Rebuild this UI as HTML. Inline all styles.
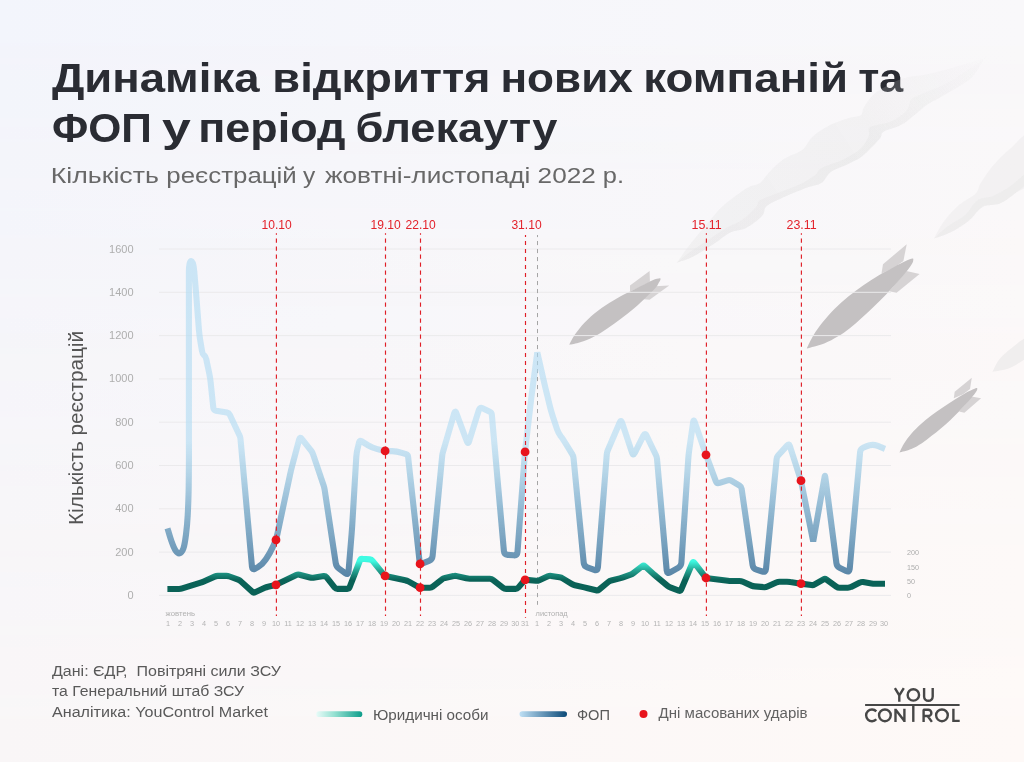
<!DOCTYPE html>
<html lang="uk">
<head>
<meta charset="utf-8">
<title>Динаміка відкриття нових компаній та ФОП у період блекауту</title>
<style>
html,body{margin:0;padding:0;}
body{width:1024px;height:762px;overflow:hidden;position:relative;font-family:"Liberation Sans",sans-serif;
background:linear-gradient(to right,#f3f5fc,#f9f8fa);}
#bg2{position:absolute;left:0;top:0;width:1024px;height:762px;background:linear-gradient(to right,#f9f6f7,#fef9f7);
-webkit-mask-image:linear-gradient(to bottom,transparent,#000);mask-image:linear-gradient(to bottom,transparent,#000);}
svg{position:absolute;left:0;top:0;display:block;will-change:transform;}
svg text{font-family:"Liberation Sans",sans-serif;}
</style>
</head>
<body>
<div id="bg2"></div>
<svg width="1024" height="762" viewBox="0 0 1024 762">
<defs>
<linearGradient id="gb" gradientUnits="userSpaceOnUse" x1="0" y1="440" x2="0" y2="585">
<stop offset="0" stop-color="#aedaf2" stop-opacity="0.6"/>
<stop offset="0.2" stop-color="#99c8e2" stop-opacity="0.68"/>
<stop offset="0.47" stop-color="#79aac9" stop-opacity="0.8"/>
<stop offset="1" stop-color="#507da0" stop-opacity="1"/>
</linearGradient>
<linearGradient id="gg" gradientUnits="userSpaceOnUse" x1="0" y1="561" x2="0" y2="580">
<stop offset="0" stop-color="#3ffbe3"/>
<stop offset="0.5" stop-color="#25a391"/>
<stop offset="1" stop-color="#0a6257"/>
</linearGradient>
<linearGradient id="lg1" x1="0" y1="0" x2="1" y2="0">
<stop offset="0" stop-color="#e8fbf8"/>
<stop offset="0.4" stop-color="#94e0d1"/>
<stop offset="1" stop-color="#0e9d8b"/>
</linearGradient>
<linearGradient id="lg2" x1="0" y1="0" x2="1" y2="0">
<stop offset="0" stop-color="#bfe0f5"/>
<stop offset="1" stop-color="#0c4a78"/>
</linearGradient>
<linearGradient id="sm1" gradientUnits="userSpaceOnUse" x1="690" y1="255" x2="985" y2="60">
<stop offset="0" stop-color="#dedede" stop-opacity="0.25"/>
<stop offset="0.62" stop-color="#dedede" stop-opacity="0.24"/>
<stop offset="1" stop-color="#dedede" stop-opacity="0.03"/>
</linearGradient>
</defs>

<!-- bombs -->
<g id="bombs">
<polygon points="630.0,291.5 630.0,285.5 649.6,271.1 649.9,281.7 640.5,287.0" fill="#d6d3d4"/>
<polygon points="654.9,286.2 669.2,285.5 649.6,299.8 641.3,299.0" fill="#d6d3d4"/>
<path d="M569.2 344.8C570.1 343.1 572.3 338.2 574.9 334.5C577.5 330.8 580.8 326.5 584.7 322.4C588.6 318.4 593.5 314.0 598.3 310.4C603.1 306.7 608.3 303.6 613.4 300.6C618.4 297.5 623.9 294.6 628.5 292.3C633.0 289.9 636.5 288.2 640.5 286.2C644.6 284.2 649.4 281.5 652.6 280.2C655.8 278.8 658.6 278.3 659.9 278.2C661.1 278.2 660.5 279.2 660.3 279.9C660.2 280.6 659.7 281.1 658.9 282.4C658.2 283.8 657.7 285.3 655.6 287.7C653.6 290.1 650.1 293.4 646.6 296.8C643.1 300.2 638.8 304.4 634.5 308.1C630.2 311.7 625.4 315.3 620.9 318.7C616.4 322.1 611.9 325.4 607.3 328.5C602.8 331.5 598.3 334.5 593.8 336.8C589.2 339.1 584.3 341.0 580.2 342.3C576.1 343.7 571.0 344.4 569.2 344.8Z" fill="#c4c1c2"/>
<polygon points="881.5,273.5 883.0,264.2 906.7,244.2 903.4,261.1 893.6,267.9" fill="#d6d3d4"/>
<polygon points="906.4,271.0 919.6,274.0 896.6,292.8 889.1,291.3" fill="#d6d3d4"/>
<path d="M806.8 348.4C807.9 346.2 810.9 339.5 813.6 335.1C816.2 330.8 819.1 326.7 822.6 322.3C826.2 317.9 830.4 313.0 834.7 308.7C839.0 304.4 843.5 300.5 848.3 296.6C853.1 292.7 858.4 288.8 863.4 285.3C868.4 281.8 873.5 278.5 878.5 275.5C883.5 272.5 889.1 269.6 893.6 267.2C898.1 264.8 902.5 262.6 905.7 261.1C908.8 259.7 911.2 258.7 912.5 258.6C913.7 258.4 913.4 259.5 913.2 260.4C913.1 261.3 913.0 262.1 911.7 264.2C910.5 266.2 908.2 269.3 905.7 272.5C903.2 275.6 899.9 279.4 896.6 283.0C893.4 286.7 889.8 290.5 886.1 294.4C882.3 298.3 878.0 302.5 874.0 306.4C870.0 310.3 865.9 314.1 861.9 317.8C857.9 321.4 853.9 325.2 849.8 328.3C845.8 331.5 842.0 334.1 837.7 336.6C833.5 339.1 829.3 341.5 824.2 343.4C819.0 345.4 809.7 347.6 806.8 348.4Z" fill="#c4c1c2"/>
<polygon points="953.8,398.3 954.7,391.8 971.8,377.7 970.0,388.9 963.2,394.2" fill="#d6d3d4"/>
<polygon points="971.5,396.6 981.1,398.3 964.4,412.7 959.1,411.6" fill="#d6d3d4"/>
<path d="M899.4 452.6C900.2 451.1 902.2 446.3 904.2 443.2C906.1 440.1 908.5 436.9 911.3 433.8C914.0 430.6 917.4 427.4 920.7 424.3C924.0 421.3 927.6 418.3 931.3 415.5C935.1 412.6 939.2 409.8 943.1 407.2C947.1 404.5 951.2 401.9 954.9 399.5C958.7 397.2 962.6 394.7 965.6 393.0C968.5 391.3 970.8 390.3 972.6 389.5C974.5 388.6 976.0 387.9 976.8 387.9C977.5 387.9 977.4 388.7 977.2 389.5C977.1 390.2 976.6 391.1 975.6 392.4C974.6 393.8 973.1 395.8 971.5 397.7C969.8 399.7 967.7 401.9 965.6 404.2C963.4 406.6 961.0 409.3 958.5 411.9C955.9 414.6 953.2 417.4 950.2 420.2C947.3 422.9 943.9 425.8 940.8 428.4C937.6 431.1 934.5 433.7 931.3 436.1C928.2 438.6 925.2 441.0 921.9 443.2C918.5 445.4 915.0 447.5 911.3 449.1C907.5 450.7 901.4 452.1 899.4 452.6Z" fill="#c4c1c2"/>
</g>

<!-- grid -->
<g stroke="#ebeaec" stroke-width="1">
<line x1="159" y1="595.4" x2="891" y2="595.4"/>
<line x1="159" y1="552.1" x2="891" y2="552.1"/>
<line x1="159" y1="508.8" x2="891" y2="508.8"/>
<line x1="159" y1="465.5" x2="891" y2="465.5"/>
<line x1="159" y1="422.2" x2="891" y2="422.2"/>
<line x1="159" y1="378.9" x2="891" y2="378.9"/>
<line x1="159" y1="335.6" x2="891" y2="335.6"/>
<line x1="159" y1="292.3" x2="891" y2="292.3"/>
<line x1="159" y1="249.0" x2="891" y2="249.0"/>
</g>

<!-- titles -->
<g font-size="40.6" font-weight="bold" fill="#2a2c33">
<text x="51.90" y="91.6" textLength="207.61" lengthAdjust="spacingAndGlyphs">Динаміка</text>
<text x="272.35" y="91.6" textLength="218.22" lengthAdjust="spacingAndGlyphs">відкриття</text>
<text x="500.45" y="91.6" textLength="132.36" lengthAdjust="spacingAndGlyphs">нових</text>
<text x="643.24" y="91.6" textLength="204.82" lengthAdjust="spacingAndGlyphs">компаній</text>
<text x="858.22" y="91.6" textLength="45.00" lengthAdjust="spacingAndGlyphs">та</text>
<text x="51.95" y="141.6" textLength="99.92" lengthAdjust="spacingAndGlyphs">ФОП</text>
<text x="162.02" y="141.6" textLength="28.79" lengthAdjust="spacingAndGlyphs">у</text>
<text x="198.26" y="141.6" textLength="147.24" lengthAdjust="spacingAndGlyphs">період</text>
<text x="355.40" y="141.6" textLength="202.01" lengthAdjust="spacingAndGlyphs">блекауту</text>
</g>
<g font-size="22.6" fill="#686868">
<text x="50.77" y="183.3" textLength="108.05" lengthAdjust="spacingAndGlyphs">Кількість</text>
<text x="166.38" y="183.3" textLength="130.43" lengthAdjust="spacingAndGlyphs">реєстрацій</text>
<text x="302.99" y="183.3" textLength="12.24" lengthAdjust="spacingAndGlyphs">у</text>
<text x="325.00" y="183.3" textLength="205.40" lengthAdjust="spacingAndGlyphs">жовтні-листопаді</text>
<text x="537.58" y="183.3" textLength="58.23" lengthAdjust="spacingAndGlyphs">2022</text>
<text x="602.88" y="183.3" textLength="21.24" lengthAdjust="spacingAndGlyphs">р.</text>
</g>

<!-- smoke trails -->
<g id="smoke">
<path d="M676.8 262.7C678.7 260.1 684.1 252.1 688.0 247.0C691.9 241.9 696.0 236.8 700.0 232.0C704.0 227.2 708.0 222.5 712.0 218.0C716.0 213.5 718.2 210.0 724.0 205.0C729.8 200.0 741.0 191.7 747.0 188.0C753.0 184.3 756.3 185.6 760.0 182.9C763.7 180.2 765.5 175.8 769.4 171.9C773.3 168.0 778.1 163.0 783.6 159.3C789.1 155.6 797.8 153.5 802.5 149.8C807.2 146.1 807.8 141.1 812.0 137.2C816.2 133.3 821.7 129.3 827.7 126.2C833.7 123.1 842.7 120.1 848.2 118.3C853.7 116.5 858.2 117.0 860.8 115.2C863.4 113.4 861.9 110.6 863.9 107.3C865.9 104.0 869.1 98.8 872.5 95.5C875.9 92.2 878.9 90.3 884.0 87.5C889.1 84.7 895.6 80.8 903.0 78.5C910.4 76.2 919.9 75.9 928.6 74.0C937.3 72.1 945.8 69.6 955.0 67.0C964.2 64.4 979.2 59.9 984.0 58.5C988.8 57.1 986.0 55.4 984.0 58.5C982.0 61.6 977.5 71.7 972.2 77.0C966.9 82.3 959.4 85.9 952.1 90.4C944.8 94.9 934.0 100.5 928.6 103.8C923.2 107.1 924.5 107.0 920.0 110.5C915.5 114.0 907.8 121.1 901.7 124.6C895.6 128.1 887.3 129.3 883.6 131.7C879.9 134.1 883.2 134.7 879.7 138.8C876.2 142.9 867.6 151.9 862.4 156.1C857.1 160.3 853.5 161.4 848.2 164.0C843.0 166.6 835.4 168.8 830.9 171.9C826.4 175.1 825.3 180.3 821.4 182.9C817.5 185.5 814.0 185.0 807.2 187.6C800.4 190.2 787.3 195.5 780.5 198.7C773.7 201.8 769.4 203.6 766.3 206.5C763.2 209.4 765.4 212.4 762.0 216.0C758.6 219.6 751.3 225.2 746.0 228.0C740.7 230.8 735.8 229.8 730.4 232.5C725.0 235.2 719.8 240.0 713.6 244.0C707.4 248.0 699.5 253.4 693.4 256.5C687.3 259.6 679.6 261.7 676.8 262.7Z" fill="url(#sm1)"/>
<path d="M676.8 262.7C679.0 260.9 684.8 255.8 690.0 252.0C695.2 248.2 702.0 244.0 708.0 240.0C714.0 236.0 720.3 231.3 726.0 228.0C731.7 224.7 737.0 223.5 742.0 220.0C747.0 216.5 753.0 210.3 756.0 207.0C759.0 203.7 756.2 202.6 760.0 200.2C763.8 197.8 772.3 195.0 778.9 192.4C785.5 189.8 793.4 187.4 799.4 184.5C805.4 181.6 811.4 177.8 815.1 175.0C818.8 172.2 816.7 170.6 821.4 168.0C826.1 165.4 836.9 162.6 843.5 159.3C850.1 156.0 856.6 152.2 860.8 148.3C865.0 144.4 867.1 139.2 868.7 135.7C870.3 132.1 866.5 129.4 870.2 127.0C873.9 124.6 884.7 124.2 890.7 121.5C896.8 118.8 903.1 114.2 906.5 110.5C909.9 106.8 909.0 102.0 911.2 99.4C913.5 96.8 914.4 97.3 920.0 94.7C925.6 92.1 937.5 87.8 945.0 84.0C952.5 80.2 958.5 76.2 965.0 72.0C971.5 67.8 980.8 60.8 984.0 58.5C987.2 56.2 986.0 55.4 984.0 58.5C982.0 61.6 977.5 71.7 972.2 77.0C966.9 82.3 959.4 85.9 952.1 90.4C944.8 94.9 934.0 100.5 928.6 103.8C923.2 107.1 924.5 107.0 920.0 110.5C915.5 114.0 907.8 121.1 901.7 124.6C895.6 128.1 887.3 129.3 883.6 131.7C879.9 134.1 883.2 134.7 879.7 138.8C876.2 142.9 867.6 151.9 862.4 156.1C857.1 160.3 853.5 161.4 848.2 164.0C843.0 166.6 835.4 168.8 830.9 171.9C826.4 175.1 825.3 180.3 821.4 182.9C817.5 185.5 814.0 185.0 807.2 187.6C800.4 190.2 787.3 195.5 780.5 198.7C773.7 201.8 769.4 203.6 766.3 206.5C763.2 209.4 765.4 212.4 762.0 216.0C758.6 219.6 751.3 225.2 746.0 228.0C740.7 230.8 735.8 229.8 730.4 232.5C725.0 235.2 719.8 240.0 713.6 244.0C707.4 248.0 699.5 253.4 693.4 256.5C687.3 259.6 679.6 261.7 676.8 262.7Z" fill="url(#sm1)"/>
<path d="M933.9 238.6C935.5 235.9 939.1 227.9 943.2 222.4C947.3 216.9 953.2 210.1 958.6 205.3C964.0 200.5 972.0 197.1 975.7 193.4C979.4 189.7 978.0 187.7 980.8 183.1C983.6 178.5 987.9 171.8 992.7 166.1C997.5 160.4 1003.6 154.2 1009.8 149.0C1016.0 143.8 1026.6 129.8 1030.0 135.0C1033.4 140.2 1032.5 170.3 1030.0 180.0C1027.5 189.7 1020.0 189.5 1014.9 193.4C1009.8 197.3 1005.0 201.3 999.6 203.6C994.2 205.9 987.6 204.2 982.5 207.0C977.4 209.8 974.2 216.4 968.8 220.7C963.4 225.0 955.9 229.6 950.1 232.6C944.3 235.6 936.6 237.6 933.9 238.6Z" fill="#dedede" fill-opacity="0.24"/>
<path d="M933.9 238.6C936.3 236.5 943.1 229.8 948.4 225.8C953.6 221.8 960.6 219.0 965.4 214.7C970.2 210.4 972.8 203.3 977.4 200.2C982.0 197.1 987.3 198.2 992.7 195.9C998.1 193.6 1003.6 190.9 1009.8 186.6C1016.0 182.3 1026.6 171.1 1030.0 170.0C1033.4 168.9 1032.5 176.1 1030.0 180.0C1027.5 183.9 1020.0 189.5 1014.9 193.4C1009.8 197.3 1005.0 201.3 999.6 203.6C994.2 205.9 987.6 204.2 982.5 207.0C977.4 209.8 974.2 216.4 968.8 220.7C963.4 225.0 955.9 229.6 950.1 232.6C944.3 235.6 936.6 237.6 933.9 238.6Z" fill="#dedede" fill-opacity="0.24"/>
<path d="M992.5 371.7C994.1 369.1 996.1 361.8 1002.4 355.9C1008.6 349.9 1025.4 336.3 1030.0 336.0C1034.6 335.7 1033.3 348.7 1030.0 354.0C1026.7 359.3 1016.5 364.8 1010.2 367.7C1004.0 370.6 995.5 371.0 992.5 371.7Z" fill="#dedede" fill-opacity="0.4"/>
</g>

<!-- y axis -->
<g font-size="11" fill="#aeaeae">
<text x="133.6" y="598.9" text-anchor="end">0</text>
<text x="133.6" y="555.6" text-anchor="end">200</text>
<text x="133.6" y="512.3" text-anchor="end">400</text>
<text x="133.6" y="469.0" text-anchor="end">600</text>
<text x="133.6" y="425.7" text-anchor="end">800</text>
<text x="133.6" y="382.4" text-anchor="end">1000</text>
<text x="133.6" y="339.1" text-anchor="end">1200</text>
<text x="133.6" y="295.8" text-anchor="end">1400</text>
<text x="133.6" y="252.5" text-anchor="end">1600</text>
</g>
<text transform="translate(83 525) rotate(-90)" font-size="19.5" fill="#555" textLength="194" lengthAdjust="spacingAndGlyphs">Кількість реєстрацій</text>
<g font-size="7.2" fill="#adadad">
<text x="907" y="555.2">200</text>
<text x="907" y="570">150</text>
<text x="907" y="584">50</text>
<text x="907" y="598">0</text>
</g>

<!-- x axis -->
<g font-size="7.3" fill="#b4b4b4">
<text x="168.0" y="626" text-anchor="middle">1</text>
<text x="180.0" y="626" text-anchor="middle">2</text>
<text x="192.0" y="626" text-anchor="middle">3</text>
<text x="204.0" y="626" text-anchor="middle">4</text>
<text x="216.0" y="626" text-anchor="middle">5</text>
<text x="228.0" y="626" text-anchor="middle">6</text>
<text x="240.0" y="626" text-anchor="middle">7</text>
<text x="252.0" y="626" text-anchor="middle">8</text>
<text x="264.0" y="626" text-anchor="middle">9</text>
<text x="276.0" y="626" text-anchor="middle">10</text>
<text x="288.0" y="626" text-anchor="middle">11</text>
<text x="300.0" y="626" text-anchor="middle">12</text>
<text x="312.0" y="626" text-anchor="middle">13</text>
<text x="324.0" y="626" text-anchor="middle">14</text>
<text x="336.0" y="626" text-anchor="middle">15</text>
<text x="348.0" y="626" text-anchor="middle">16</text>
<text x="360.0" y="626" text-anchor="middle">17</text>
<text x="372.0" y="626" text-anchor="middle">18</text>
<text x="384.0" y="626" text-anchor="middle">19</text>
<text x="396.0" y="626" text-anchor="middle">20</text>
<text x="408.0" y="626" text-anchor="middle">21</text>
<text x="420.0" y="626" text-anchor="middle">22</text>
<text x="432.0" y="626" text-anchor="middle">23</text>
<text x="444.0" y="626" text-anchor="middle">24</text>
<text x="456.0" y="626" text-anchor="middle">25</text>
<text x="468.0" y="626" text-anchor="middle">26</text>
<text x="480.0" y="626" text-anchor="middle">27</text>
<text x="492.0" y="626" text-anchor="middle">28</text>
<text x="504.0" y="626" text-anchor="middle">29</text>
<text x="515.2" y="626" text-anchor="middle">30</text>
<text x="525.0" y="626" text-anchor="middle">31</text>
<text x="537.0" y="626" text-anchor="middle">1</text>
<text x="549.0" y="626" text-anchor="middle">2</text>
<text x="561.0" y="626" text-anchor="middle">3</text>
<text x="573.0" y="626" text-anchor="middle">4</text>
<text x="585.0" y="626" text-anchor="middle">5</text>
<text x="597.0" y="626" text-anchor="middle">6</text>
<text x="609.0" y="626" text-anchor="middle">7</text>
<text x="621.0" y="626" text-anchor="middle">8</text>
<text x="633.0" y="626" text-anchor="middle">9</text>
<text x="645.0" y="626" text-anchor="middle">10</text>
<text x="657.0" y="626" text-anchor="middle">11</text>
<text x="669.0" y="626" text-anchor="middle">12</text>
<text x="681.0" y="626" text-anchor="middle">13</text>
<text x="693.0" y="626" text-anchor="middle">14</text>
<text x="705.0" y="626" text-anchor="middle">15</text>
<text x="717.0" y="626" text-anchor="middle">16</text>
<text x="729.0" y="626" text-anchor="middle">17</text>
<text x="741.0" y="626" text-anchor="middle">18</text>
<text x="753.0" y="626" text-anchor="middle">19</text>
<text x="765.0" y="626" text-anchor="middle">20</text>
<text x="777.0" y="626" text-anchor="middle">21</text>
<text x="789.0" y="626" text-anchor="middle">22</text>
<text x="801.0" y="626" text-anchor="middle">23</text>
<text x="813.0" y="626" text-anchor="middle">24</text>
<text x="825.0" y="626" text-anchor="middle">25</text>
<text x="837.0" y="626" text-anchor="middle">26</text>
<text x="849.0" y="626" text-anchor="middle">27</text>
<text x="861.0" y="626" text-anchor="middle">28</text>
<text x="873.0" y="626" text-anchor="middle">29</text>
<text x="884.0" y="626" text-anchor="middle">30</text>
</g>
<text x="165.6" y="616.2" font-size="7.2" fill="#b0b0b0" textLength="29.4" lengthAdjust="spacingAndGlyphs">жовтень</text>
<text x="535.6" y="616.2" font-size="7.2" fill="#b0b0b0" textLength="32" lengthAdjust="spacingAndGlyphs">листопад</text>

<!-- month separator -->
<line x1="537.5" y1="235" x2="537.5" y2="604.8" stroke="#a5a5a5" stroke-width="1" stroke-dasharray="4.1 3.9" stroke-dashoffset="2"/>

<!-- data lines -->
<path d="M167.5 528.3C168.2 530.5 170.2 537.8 171.6 541.5C172.9 545.2 174.3 548.6 175.6 550.6C176.9 552.6 178.3 553.6 179.6 553.3C180.9 553.0 182.3 551.7 183.4 548.6C184.5 545.5 185.3 540.0 186.0 534.5C186.7 529.0 187.3 522.6 187.7 515.5C188.1 508.4 188.4 500.2 188.6 491.9C188.8 483.6 188.8 474.2 188.9 465.6C189.0 457.0 188.9 444.3 188.9 440.0L188.9 440.0L188.9 272.0C188.9 257.0 193.4 257.5 194.3 272.0L195.3 284.0Q196.0 292.0 196.6 300.0L198.9 329.5Q199.4 335.5 200.4 341.4L202.0 351.0Q202.5 354.0 203.9 355.1L204.3 355.4Q205.7 356.5 206.3 359.4L209.4 374.1Q210.2 378.0 210.6 382.0L213.3 407.7Q213.6 410.2 216.1 410.7L226.9 412.6Q228.9 413.0 229.8 414.8L239.4 435.2Q240.3 437.0 240.5 439.0L252.0 566.9Q252.3 570.4 255.3 568.6L257.9 567.2Q262.4 564.5 265.7 559.5L266.7 558.0Q270.0 553.0 272.5 547.6L273.6 545.3Q276.1 539.9 277.4 534.0L290.0 474.9Q291.0 470.0 292.3 465.2L299.2 439.4Q300.0 436.5 301.8 438.9L311.3 450.9Q312.5 452.5 313.1 454.4L323.8 486.1Q324.4 488.0 324.7 490.0L335.7 563.0Q336.2 566.5 339.0 568.6L345.4 573.2Q348.2 575.3 348.5 571.8L351.6 534.0Q352.0 529.0 352.3 524.0L356.3 456.8Q356.5 452.8 357.5 448.9L359.2 441.9Q359.7 440.0 361.4 441.1L368.2 445.3Q372.5 447.9 377.4 449.1L380.0 449.7Q384.9 450.9 389.9 451.1L392.0 451.1Q397.0 451.3 401.8 452.8L406.0 454.2Q407.9 454.8 408.1 456.8L419.5 561.0Q419.9 564.5 423.2 563.2L429.0 560.9Q432.3 559.6 432.6 556.1L442.2 455.8Q442.4 453.8 443.0 451.9L454.2 413.4Q455.2 410.0 456.4 413.3L466.8 441.2Q468.0 444.5 469.1 441.2L478.9 409.9Q479.8 407.0 482.5 408.3L489.8 411.7Q491.6 412.5 491.8 414.5L503.9 551.1Q504.2 554.6 507.7 554.9L513.7 555.3Q517.2 555.6 517.5 552.1L524.5 457.9Q525.0 451.9 525.7 445.9L531.4 397.0Q532.0 392.0 532.7 387.0L537.3 352.5L544.3 383.1Q545.6 388.9 547.1 394.7L550.0 406.7Q551.5 412.5 553.4 418.2L557.1 429.4Q558.4 433.2 560.2 435.4L560.5 435.9Q562.3 438.1 564.4 441.5L572.2 454.1Q573.3 455.8 573.5 457.8L583.7 562.6Q584.0 566.1 587.3 567.3L594.3 569.9Q597.6 571.1 597.9 567.6L606.8 454.0Q607.0 452.0 607.8 450.2L619.6 422.7Q621.0 419.5 622.1 422.8L632.1 452.7Q633.2 456.0 634.8 452.9L643.4 435.6Q645.0 432.5 646.5 435.6L655.9 455.0Q656.8 456.8 657.0 458.8L666.7 570.5Q667.0 574.0 670.1 572.3L678.1 567.8Q681.2 566.1 681.4 562.6L688.2 460.0Q688.5 455.0 689.2 450.0L693.2 422.0Q693.6 419.0 694.6 421.8L704.0 449.1Q706.0 454.8 708.1 460.4L715.7 480.9Q716.7 483.7 719.6 482.8L727.6 480.3Q729.5 479.7 731.2 480.7L739.6 485.6Q741.3 486.6 741.6 488.6L752.6 565.1Q753.1 568.6 756.4 569.6L762.4 571.5Q765.7 572.5 766.0 569.0L776.6 459.1Q776.8 457.1 778.1 455.6L787.3 445.4Q789.0 443.5 789.8 445.9L801.0 480.7L813.2 541.5L824.6 477.0Q825.0 474.5 825.3 477.0L836.4 563.1Q836.8 566.6 840.0 568.1L846.2 571.0Q849.4 572.5 849.7 569.0L860.1 452.0Q860.4 449.0 863.1 447.8L866.9 446.1Q872.2 443.7 877.8 445.9L885.0 448.8" fill="none" stroke="url(#gb)" stroke-width="6.1" stroke-linejoin="miter" stroke-miterlimit="3" stroke-linecap="butt"/>
<path d="M167.4 589.0L179.0 589.0Q180.7 589.0 182.3 588.4L200.7 582.7Q202.3 582.2 203.8 581.5L214.6 576.6Q216.1 575.9 217.8 575.9L226.3 575.9Q228.0 575.9 229.6 576.5L238.1 579.6Q239.7 580.2 240.9 581.4L252.3 591.8Q253.5 593.0 255.0 592.3L264.8 587.8Q266.3 587.1 268.0 586.7L274.4 585.2Q276.1 584.8 277.6 584.1L296.3 575.0Q297.8 574.3 299.4 574.7L310.0 577.5Q311.6 577.9 313.3 577.7L323.7 576.1Q325.4 575.9 326.5 577.2L334.7 587.6Q335.8 588.9 337.5 588.9L347.3 588.9Q349.0 588.9 349.6 587.3L360.1 560.2Q360.7 558.6 362.4 558.8L369.8 559.4Q371.5 559.6 372.6 560.9L383.8 574.6Q384.9 575.9 386.6 576.3L405.2 580.2Q406.9 580.6 408.4 581.4L418.2 586.9Q419.7 587.7 421.4 587.7L429.8 587.7Q431.5 587.7 432.8 586.6L442.0 579.4Q443.3 578.3 445.0 577.9L453.5 576.1Q455.2 575.7 456.9 576.1L466.3 578.3Q468.0 578.7 469.7 578.7L489.9 578.7Q491.6 578.7 492.9 579.8L503.1 587.8Q504.4 588.9 506.1 588.9L515.5 588.9Q517.2 588.9 518.3 587.6L523.9 581.1Q525.0 579.8 526.7 579.9L536.0 580.8Q537.7 580.9 539.3 580.2L547.9 576.3Q549.5 575.6 551.2 575.9L559.6 577.3Q561.3 577.6 562.8 578.5L571.6 583.9Q573.1 584.8 574.8 585.2L584.3 587.4Q586.0 587.8 587.7 588.2L596.1 590.3Q597.8 590.7 599.1 589.6L608.3 582.0Q609.6 580.9 611.3 580.5L619.7 578.4Q621.4 578.0 623.0 577.4L630.6 574.6Q632.2 574.0 633.5 573.0L642.3 566.2Q643.6 565.2 644.9 566.3L654.5 574.9Q655.8 576.0 657.1 577.1L667.3 585.7Q668.6 586.8 670.2 587.4L678.8 590.7Q680.4 591.3 681.1 589.7L692.5 562.8Q693.2 561.2 694.2 562.6L705.0 576.6Q706.0 578.0 707.7 578.2L727.8 580.8Q729.5 581.0 731.2 581.0L739.6 581.0Q741.3 581.0 742.9 581.7L751.5 585.6Q753.1 586.3 754.8 586.4L764.2 587.2Q765.9 587.3 767.4 586.6L776.3 582.5Q777.8 581.8 779.5 581.8L786.9 581.8Q788.6 581.8 790.3 582.1L799.3 583.4Q801.0 583.7 802.7 583.9L811.5 585.1Q813.2 585.3 814.7 584.4L823.5 579.3Q825.0 578.4 826.4 579.4L836.4 586.7Q837.8 587.7 839.5 587.7L847.9 587.7Q849.6 587.7 851.1 586.9L859.9 582.6Q861.4 581.8 863.1 582.1L871.5 583.4Q873.2 583.7 874.9 583.7L885.0 583.7" fill="none" stroke="url(#gg)" stroke-width="6.1" stroke-linejoin="miter" stroke-miterlimit="4" stroke-linecap="butt"/>

<!-- strike lines -->
<g stroke="#e01f27" stroke-width="1.15" stroke-dasharray="4.1 3.9">
<line x1="276.4" y1="233.3" x2="276.4" y2="616" stroke-dashoffset="2.7"/>
<line x1="385.5" y1="233.3" x2="385.5" y2="616" stroke-dashoffset="2.7"/>
<line x1="420.5" y1="233.3" x2="420.5" y2="616" stroke-dashoffset="2.7"/>
<line x1="525.5" y1="235" x2="525.5" y2="617.8" stroke-dashoffset="2"/>
<line x1="706.4" y1="233.3" x2="706.4" y2="616" stroke-dashoffset="2.7"/>
<line x1="801.4" y1="233.3" x2="801.4" y2="616" stroke-dashoffset="2.7"/>
</g>
<g font-size="12" fill="#e3222b">
<text x="261.5" y="228.6" textLength="30.2" lengthAdjust="spacingAndGlyphs">10.10</text>
<text x="370.6" y="228.6" textLength="30.2" lengthAdjust="spacingAndGlyphs">19.10</text>
<text x="405.6" y="228.6" textLength="30.2" lengthAdjust="spacingAndGlyphs">22.10</text>
<text x="511.4" y="228.6" textLength="30.2" lengthAdjust="spacingAndGlyphs">31.10</text>
<text x="691.5" y="228.6" textLength="30.2" lengthAdjust="spacingAndGlyphs">15.11</text>
<text x="786.5" y="228.6" textLength="30.2" lengthAdjust="spacingAndGlyphs">23.11</text>
</g>

<!-- strike dots -->
<g fill="#e8141c">
<circle cx="276.0" cy="539.9" r="4.4"/><circle cx="276.0" cy="584.8" r="4.4"/>
<circle cx="385.1" cy="450.9" r="4.4"/><circle cx="385.1" cy="575.9" r="4.4"/>
<circle cx="420.1" cy="563.9" r="4.4"/><circle cx="420.1" cy="587.7" r="4.4"/>
<circle cx="525.1" cy="451.9" r="4.4"/><circle cx="525.1" cy="579.8" r="4.4"/>
<circle cx="706.0" cy="454.8" r="4.4"/><circle cx="706.0" cy="578.0" r="4.4"/>
<circle cx="801.0" cy="480.7" r="4.4"/><circle cx="801.0" cy="583.7" r="4.4"/>
</g>

<!-- footer -->
<g font-size="15.3" fill="#595959">
<text x="52" y="675.8" textLength="229" lengthAdjust="spacingAndGlyphs" xml:space="preserve">Дані: ЄДР,  Повітряні сили ЗСУ</text>
<text x="52" y="696.4" textLength="192" lengthAdjust="spacingAndGlyphs">та Генеральний штаб ЗСУ</text>
<text x="52" y="716.9" textLength="216" lengthAdjust="spacingAndGlyphs">Аналітика: YouControl Market</text>
</g>

<!-- legend -->
<rect x="316.3" y="711.3" width="46" height="5.7" rx="2.85" fill="url(#lg1)"/>
<text x="373" y="720" font-size="15.4" fill="#595959" textLength="115.5" lengthAdjust="spacingAndGlyphs">Юридичні особи</text>
<rect x="519.5" y="711.2" width="47.5" height="5.7" rx="2.85" fill="url(#lg2)"/>
<text x="577" y="720" font-size="15.4" fill="#595959" textLength="33" lengthAdjust="spacingAndGlyphs">ФОП</text>
<circle cx="643.5" cy="714" r="4" fill="#e8141c"/>
<text x="658.6" y="718" font-size="15.2" fill="#626262" textLength="149" lengthAdjust="spacingAndGlyphs">Дні масованих ударів</text>

<!-- logo -->
<g id="logo" fill="none" stroke="#474747" stroke-width="2.4" stroke-linecap="butt" stroke-linejoin="bevel">
<line x1="865.1" y1="705.05" x2="959.6" y2="705.05" stroke-width="2.1"/>
<!-- YOU -->
<path d="M894.9 688.1L899.3 695.4L903.8 688.1M899.3 694.6V701.8"/>
<circle cx="913.35" cy="694.95" r="5.7"/>
<path d="M924.1 688.1V696.5A4.3 4.3 0 0 0 932.7 696.5V688.1"/>
<!-- CONTROL -->
<path d="M876.3 711.4A5.85 5.85 0 1 0 876.3 719.3"/>
<circle cx="884.9" cy="715.35" r="5.85"/>
<path d="M895.5 721.9V708.7M895.5 709.6L904.4 721M904.4 721.9V708.7"/>
<line x1="913.3" y1="705" x2="913.3" y2="721.9"/>
<path d="M923.6 721.9V709.75H928.2A3.15 3.15 0 0 1 928.2 716.05H923.6M927.6 716.05L931.9 721.9"/>
<circle cx="941.95" cy="715.35" r="5.85"/>
<path d="M953.4 708.7V720.85H959.7" stroke-linejoin="miter"/>
</g>
</svg>
</body>
</html>
